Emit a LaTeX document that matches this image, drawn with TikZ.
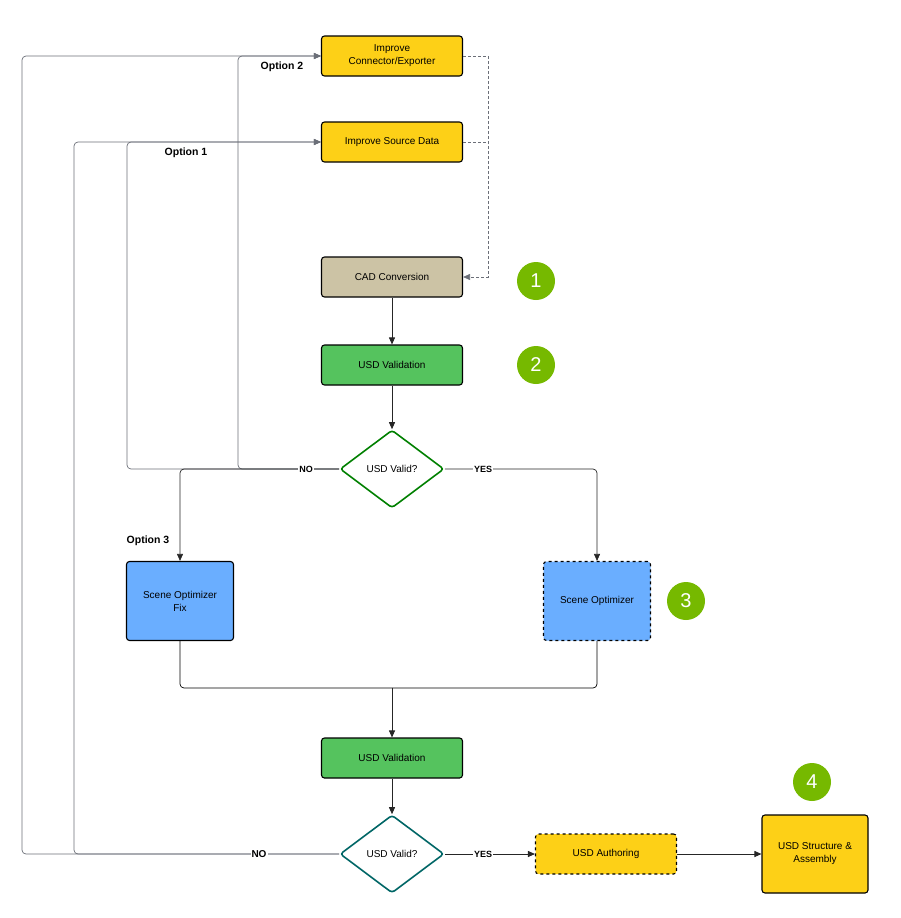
\documentclass[tikz,border=0pt]{standalone}
\usepackage{fontspec}
\setmainfont{Liberation Sans}
\usetikzlibrary{positioning,calc,arrows.meta,shapes.geometric}
\definecolor{figyellow}{HTML}{FDD017}
\definecolor{figtan}{HTML}{CCC3A5}
\definecolor{figgreen}{HTML}{55C35E}
\definecolor{figblue}{HTML}{6AAEFF}
\definecolor{figbadge}{HTML}{76B900}
\definecolor{figline}{HTML}{6B6F78}
\tikzset{
  figfont/.style={font=\fontsize{10}{13}\selectfont},
  figbox/.style={draw, rounded corners=3pt, align=center, line width=1.1pt, minimum width=141pt, minimum height=40pt},
  figboxyellow/.style={figbox, fill=figyellow},
  figboxsq/.style={figbox, minimum width=107pt, minimum height=79pt},
  figdiamond/.style={diamond, draw, line width=1.6pt, fill=white, rounded corners=3pt, minimum width=104pt, minimum height=78pt, inner sep=0pt, aspect=1.33},
  figbadgestyle/.style={circle, fill=figbadge, text=white, minimum size=38pt, inner sep=0pt, font=\fontsize{20}{20}\selectfont},
  figarrow/.style={-{Triangle[length=7pt,width=6pt]}, line width=0.9pt, draw=black!85},
  figloop/.style={-{Triangle[length=7pt,width=6pt]}, line width=0.7pt, draw=figline, rounded corners=4pt},
  figdash/.style={densely dashed, line width=0.7pt, draw=figline},
  figtag/.style={font=\fontsize{9}{9}\selectfont\bfseries, fill=white, inner sep=1pt},
  figopt/.style={font=\fontsize{10.5}{11}\selectfont\bfseries},
}
\begin{document}
\begin{tikzpicture}[x=1pt,y=-1pt,figfont]
\useasboundingbox (0,0) rectangle (900,918);
% boxes
\node[figboxyellow] (imp2) at (392,56) {Improve\\Connector/Exporter};
\node[figboxyellow] (imp1) at (392,142) {Improve Source Data};
\node[figbox, fill=figtan] (cad) at (392,277) {CAD Conversion};
\node[figbox, fill=figgreen] (val1) at (392,365) {USD Validation};
\node[figdiamond, draw=green!50!black] (dia1) at (392,469) {USD Valid?};
\node[figboxsq, fill=figblue] (fix) at (180,601) {Scene Optimizer\\Fix};
\node[figboxsq, fill=figblue, dashed] (opt) at (597,601) {Scene Optimizer};
\node[figbox, fill=figgreen] (val2) at (392,758) {USD Validation};
\node[figdiamond, draw=teal!80!black] (dia2) at (392,854) {USD Valid?};
\node[figboxyellow, dashed] (auth) at (606,854) {USD Authoring};
\node[figboxyellow, minimum width=106pt, minimum height=78pt] (struct) at (815,854) {USD Structure \&\\Assembly};
% badges
\node[figbadgestyle] (b1) at (536,281) {1};
\node[figbadgestyle] (b2) at (536,365) {2};
\node[figbadgestyle] (b3) at (686,601) {3};
\node[figbadgestyle] (b4) at (812,782) {4};
% dashed feedback into conversion
\coordinate (dtop) at (488,56);
\draw[figdash, -{Triangle[length=7pt,width=6pt]}] (imp2.east) -- (dtop) |- (cad.east);
\draw[figdash] (imp1.east) -- (imp1.east -| dtop);
% main chain
\draw[figarrow] (cad) -- (val1);
\draw[figarrow] (val1) -- (dia1);
% first decision
\draw[figloop] (dia1.west) -- (127,469) |- (imp1.west);
\draw[figloop] (dia1.west) -- (238,469) |- (imp2.west);
\draw[figarrow, rounded corners=4pt, line width=0.7pt] (dia1.west) -| (fix.north);
\draw[figarrow, rounded corners=4pt, line width=0.7pt] (dia1.east) -| (opt.north);
\node[figtag] at (306,469) {NO};
\node[figtag] at (483,469) {YES};
\node[figopt] at (282,67) {Option 2};
\node[figopt] at (186,153) {Option 1};
\node[figopt] at (148,541) {Option 3};
% merge
\coordinate (mrg) at (392,688);
\draw[line width=0.7pt, rounded corners=4pt] (fix.south) |- (mrg);
\draw[line width=0.7pt, rounded corners=4pt] (opt.south) |- (mrg);
\draw[figarrow] (mrg) -- (val2);
\draw[figarrow] (val2) -- (dia2);
% second decision
\draw[figloop] (dia2.west) -- (74,854) |- (imp1.west);
\draw[figloop] (dia2.west) -- (22,854) |- (imp2.west);
\node[figtag, font=\fontsize{10}{10}\selectfont\bfseries] at (259,854) {NO};
\draw[figarrow] (dia2.east) -- (auth.west);
\node[figtag] at (483,854) {YES};
\draw[figarrow] (auth.east) -- (struct.west);
\end{tikzpicture}
\end{document}
